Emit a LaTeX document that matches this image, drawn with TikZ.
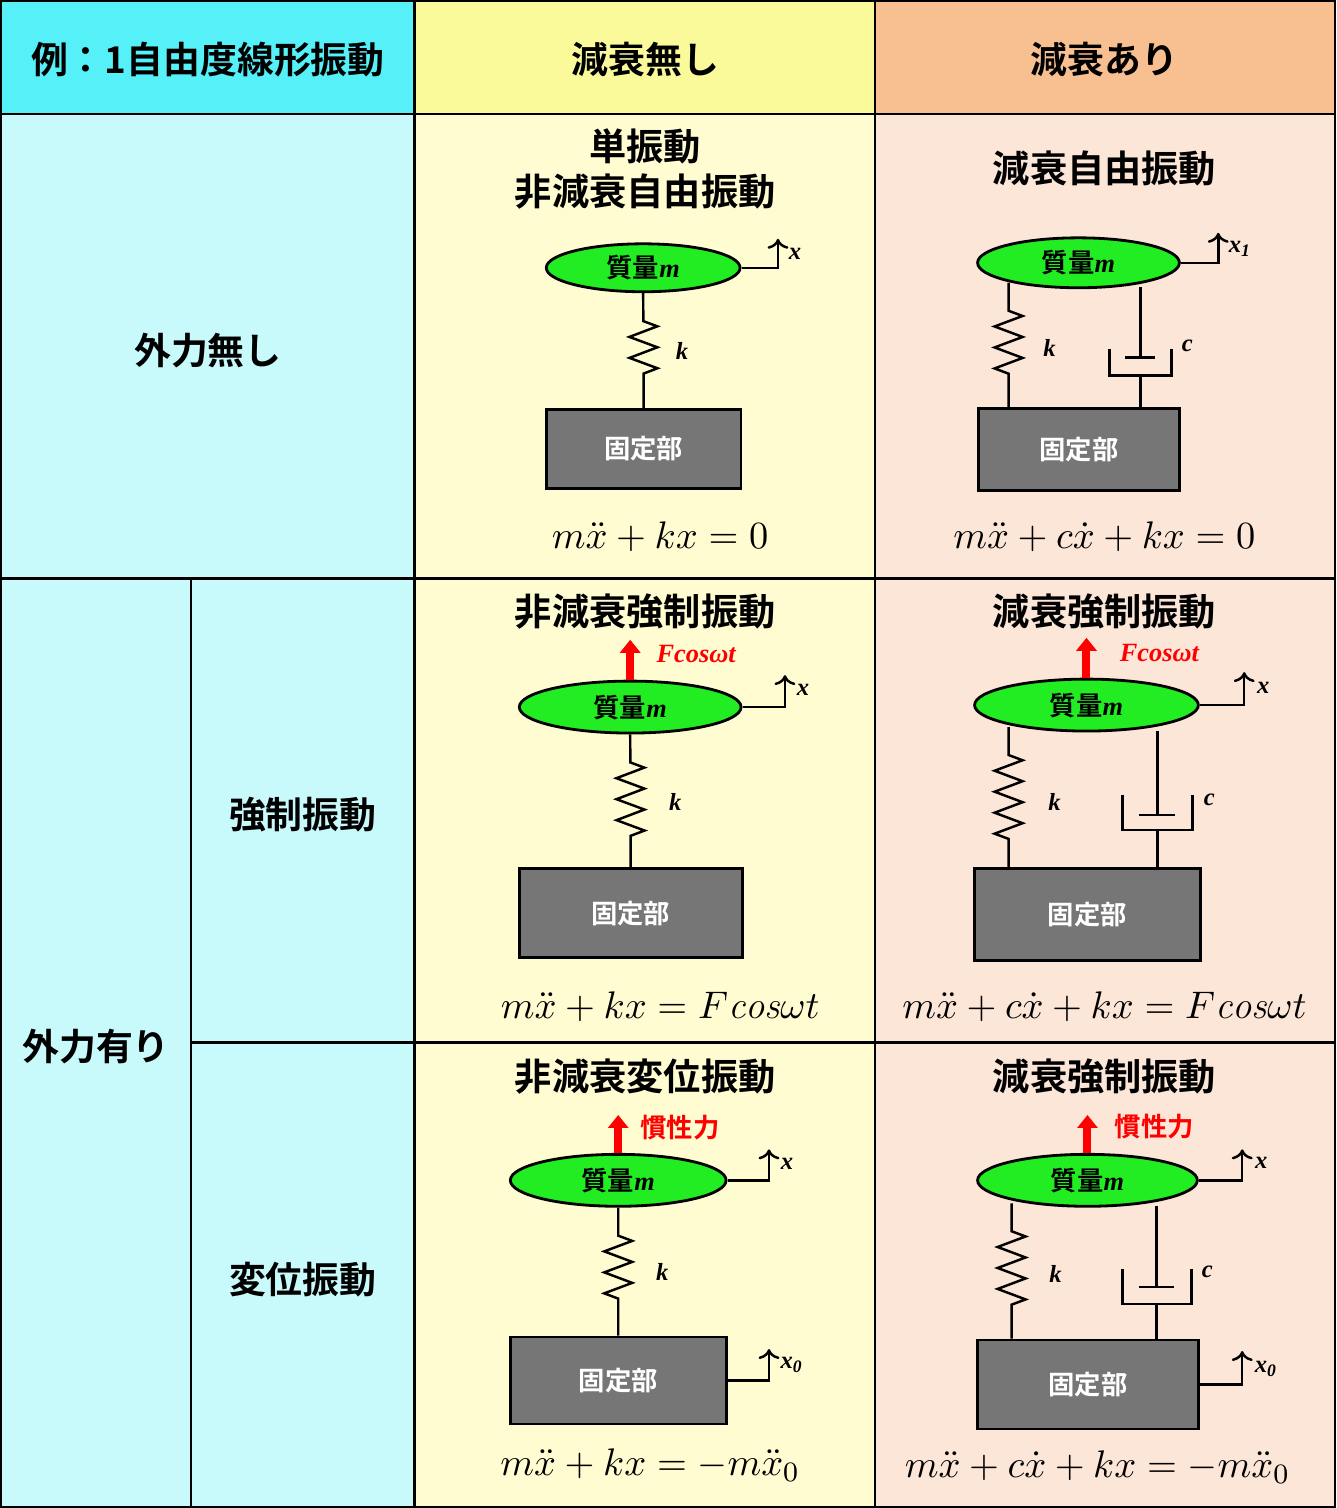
\documentclass[tikz,border=0pt]{standalone}
\usepackage{fontspec}
\usepackage{amsmath}
\usetikzlibrary{shapes.geometric,arrows.meta,decorations.pathmorphing}
\newfontfamily\cjk{Noto Sans CJK JP}[BoldFont={* Bold}]
\newfontfamily\sym{Liberation Serif}
\definecolor{headA}{RGB}{85,240,248}
\definecolor{headB}{RGB}{250,250,155}
\definecolor{headC}{RGB}{248,192,144}
\definecolor{bodyA}{RGB}{200,250,252}
\definecolor{bodyB}{RGB}{255,252,210}
\definecolor{bodyC}{RGB}{252,230,216}
\definecolor{massg}{RGB}{34,236,34}
\definecolor{baseg}{RGB}{118,118,118}
\newcommand{\lbl}[1]{{\sym\bfseries\itshape #1}}
\newcommand{\massm}{{\cjk\bfseries 質量}\lbl{m}}

\begin{document}
\begin{tikzpicture}[x=0.01cm, y=-0.01cm, line width=0.7pt,
  hd/.style={font=\cjk\bfseries\fontsize{10.5}{12}\selectfont},
  ttl/.style={font=\cjk\bfseries\fontsize{10.6}{13}\selectfont, align=center},
  mass/.style={ellipse, draw, line width=0.8pt, fill=massg, inner sep=0pt, font=\fontsize{7.5}{8}\selectfont},
  base/.style={rectangle, draw, line width=0.8pt, fill=baseg, text=white, inner sep=0pt, font=\cjk\bfseries\fontsize{7.5}{8}\selectfont},
  lab/.style={font=\fontsize{7}{8}\selectfont, inner sep=0pt},
  eqn/.style={font=\fontsize{11}{13}\selectfont},
  spring/.style={decorate, decoration={zigzag, segment length=0.21cm, amplitude=0.14cm, pre length=0.28cm, post length=0.27cm}},
  disp/.style={-{To[length=0.1cm]}},
  force/.style={red, line width=0.08cm, -{Triangle[width=0.2cm,length=0.13cm]}},
  fl/.style={red, font=\fontsize{7.5}{8}\selectfont, inner sep=0pt}]

% cell backgrounds
\fill[headA] (0,0) rectangle (414,113);
\fill[headB] (414,0) rectangle (875,113);
\fill[headC] (875,0) rectangle (1336,113);
\fill[bodyA] (0,113) rectangle (414,1508);
\fill[bodyB] (414,113) rectangle (875,1508);
\fill[bodyC] (875,113) rectangle (1336,1508);
% grid
\draw (0,0) rectangle (1336,1508);
\draw (414,0) -- (414,1508);
\draw (875,0) -- (875,1508);
\draw (0,113) -- (1336,113);
\draw (0,578) -- (1336,578);
\draw (190,1043) -- (1336,1043);
\draw (190,578) -- (190,1508);

% headings
\node[hd] (h0) at (207,58) {例：1自由度線形振動};
\node[hd] (h1) at (645,58) {減衰無し};
\node[hd] (h2) at (1105,58) {減衰あり};
\node[hd] (r1) at (207,350) {外力無し};
\node[hd] (r2) at (95,1047) {外力有り};
\node[hd] (r2a) at (302,815) {強制振動};
\node[hd] (r2b) at (302,1280) {変位振動};

% free, undamped
\node[ttl] (t1) at (645,168) {単振動\\非減衰自由振動};
\node[mass, minimum width=1.94cm, minimum height=0.48cm] (m1) at (643,267) {\massm};
\node[base, minimum width=1.95cm, minimum height=0.79cm] (b1) at (643.5,448.5) {固定部};
\draw[spring] (m1.south) -- (b1.north);
\node[lab] (k1) at (682,350) {\lbl{k}};
\draw[disp] (m1.east) -| (778,238);
\node[lab] (x1) at (795,253) {\lbl{x}};
\node[eqn] (e1) at (660,536) {$m\ddot{x}+kx=0$};

% free, damped
\node[ttl] (t2) at (1105,168) {減衰自由振動};
\node[mass, minimum width=2.02cm, minimum height=0.5cm] (m2) at (1079,262) {\massm};
\node[base, minimum width=2.01cm, minimum height=0.82cm] (b2) at (1079.5,449) {固定部};
\coordinate (s2) at (1009,282);
\draw[spring] (s2) -- (s2 |- b2.north);
\coordinate (d2) at (1141,286);
\draw (d2) -- (1141,357) (1126,357) -- (1156,357);
\draw (1110,348) -- (1110,375) -- (1172,375) -- (1172,348);
\draw (1141,375) -- (d2 |- b2.north);
\node[lab] (k2) at (1050,347) {\lbl{k}};
\node[lab] (c2) at (1188,345) {\lbl{c}};
\draw[disp] (m2.east) -| (1219,232);
\node[lab] (x2) at (1241,248) {\lbl{x\textsubscript{1}}};
\node[eqn] (e2) at (1105,536) {$m\ddot{x}+c\dot{x}+kx=0$};

% forced, undamped
\node[ttl] (t3) at (645,611) {非減衰強制振動};
\node[mass, minimum width=2.22cm, minimum height=0.52cm] (m3) at (630,707) {\massm};
\node[base, minimum width=2.23cm, minimum height=0.89cm] (b3) at (630.5,913.5) {固定部};
\draw[force] (m3.north) -- ++(0,-40);
\node[fl] (f3) at (696,654) {\lbl{Fcosωt}};
\draw[spring] (m3.south) -- (b3.north);
\node[lab] (k3) at (675,802) {\lbl{k}};
\draw[disp] (m3.east) -| (785,675);
\node[lab] (x3) at (803,690) {\lbl{x}};
\node[eqn] (e3) at (660,1007) {$m\ddot{x}+kx=F\mathit{cos}\omega t$};

% forced, damped
\node[ttl] (t4) at (1105,611) {減衰強制振動};
\node[mass, minimum width=2.24cm, minimum height=0.52cm] (m4) at (1087,705) {\massm};
\node[base, minimum width=2.26cm, minimum height=0.92cm] (b4) at (1088,915) {固定部};
\draw[force] (m4.north) -- ++(0,-40);
\node[fl] (f4) at (1160,653) {\lbl{Fcosωt}};
\coordinate (s4) at (1009,727);
\draw[spring] (s4) -- (s4 |- b4.north);
\coordinate (d4) at (1158,731);
\draw (d4) -- (1158,815) (1140,815) -- (1176,815);
\draw (1123,795) -- (1123,830) -- (1193,830) -- (1193,795);
\draw (1158,830) -- (d4 |- b4.north);
\node[lab] (k4) at (1055,802) {\lbl{k}};
\node[lab] (c4) at (1210,800) {\lbl{c}};
\draw[disp] (m4.east) -| (1245,672);
\node[lab] (x4) at (1264,688) {\lbl{x}};
\node[eqn] (e4) at (1105,1007) {$m\ddot{x}+c\dot{x}+kx=F\mathit{cos}\omega t$};

% base excitation, undamped
\node[ttl] (t5) at (645,1077) {非減衰変位振動};
\node[mass, minimum width=2.16cm, minimum height=0.52cm] (m5) at (618,1181) {\massm};
\node[base, minimum width=2.16cm, minimum height=0.87cm] (b5) at (618,1381.5) {固定部};
\draw[force] (m5.north) -- ++(0,-38);
\node[fl] (f5) at (680,1128) {\cjk\bfseries 慣性力};
\draw[spring] (m5.south) -- (b5.north);
\node[lab] (k5) at (662,1273) {\lbl{k}};
\draw[disp] (m5.east) -| (769,1150);
\node[lab] (x5) at (787,1165) {\lbl{x}};
\draw[disp] (b5.east) -| (769,1350);
\node[lab] (x50) at (792,1366) {\lbl{x\textsubscript{0}}};
\node[eqn] (e5) at (650,1466) {$m\ddot{x}+kx=-m\ddot{x}_0$};

% base excitation, damped
\node[ttl] (t6) at (1105,1077) {減衰強制振動};
\node[mass, minimum width=2.2cm, minimum height=0.52cm] (m6) at (1088,1181) {\massm};
\node[base, minimum width=2.21cm, minimum height=0.89cm] (b6) at (1088.5,1385.5) {固定部};
\draw[force] (m6.north) -- ++(0,-38);
\node[fl] (f6) at (1155,1127) {\cjk\bfseries 慣性力};
\coordinate (s6) at (1012,1204);
\draw[spring] (s6) -- (s6 |- b6.north);
\coordinate (d6) at (1157,1207);
\draw (d6) -- (1157,1288) (1140,1288) -- (1175,1288);
\draw (1123,1270) -- (1123,1305) -- (1192,1305) -- (1192,1270);
\draw (1157,1305) -- (d6 |- b6.north);
\node[lab] (k6) at (1056,1275) {\lbl{k}};
\node[lab] (c6) at (1208,1273) {\lbl{c}};
\draw[disp] (m6.east) -| (1243,1150);
\node[lab] (x6) at (1262,1164) {\lbl{x}};
\draw[disp] (b6.east) -| (1243,1352);
\node[lab] (x60) at (1267,1370) {\lbl{x\textsubscript{0}}};
\node[eqn] (e6) at (1098,1468) {$m\ddot{x}+c\dot{x}+kx=-m\ddot{x}_0$};
\end{tikzpicture}
\end{document}
